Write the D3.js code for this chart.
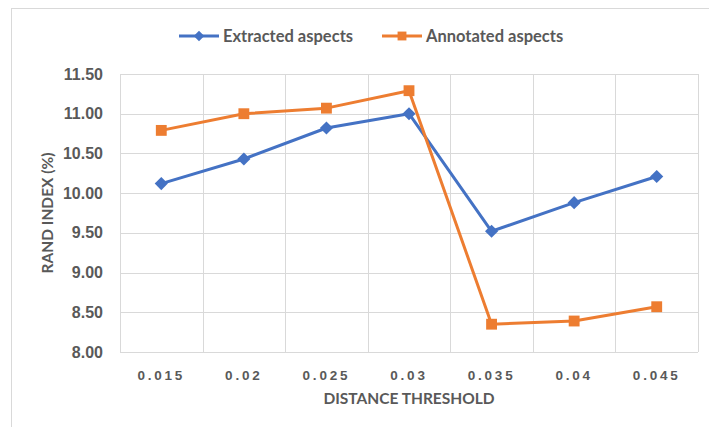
<!DOCTYPE html>
<html>
<head>
<meta charset="utf-8">
<script src="https://cdn.jsdelivr.net/npm/d3@7"></script>
<style>
  html, body { margin: 0; padding: 0; background: #fff; }
  svg { display: block; font-family: Lato, "Liberation Sans", sans-serif; }
</style>
</head>
<body>
<svg id="chart" width="709" height="427"></svg>
<script>
// Distance thresholds on the x axis
const thresholds = ["0.015", "0.02", "0.025", "0.03", "0.035", "0.04", "0.045"];
// Rand index (%) per threshold
const extracted = [10.12, 10.43, 10.82, 11.00, 9.52, 9.88, 10.21];
const annotated = [10.79, 11.00, 11.07, 11.29, 8.35, 8.39, 8.57];
const yTicks = [8.0, 8.5, 9.0, 9.5, 10.0, 10.5, 11.0, 11.5];
const seriesNames = ["Extracted aspects", "Annotated aspects"];

const svg = d3.select("#chart");
const W = 709, H = 427;
const plot = { left: 120, right: 698, top: 74, bottom: 352 };
const textColor = "#595959";
const gridColor = "#d9d9d9";
const colors = ["#4472C4", "#ED7D31"];

// outer chart frame
svg.append("rect")
  .attr("x", 11.5).attr("y", 8.5)
  .attr("width", W + 20).attr("height", H + 20)
  .attr("fill", "none").attr("stroke", "#d9d9d9");

const x = d3.scaleBand().domain(thresholds).range([plot.left, plot.right]).paddingInner(0).paddingOuter(0);
const y = d3.scaleLinear().domain([8, 11.5]).range([plot.bottom, plot.top]);

// horizontal gridlines
svg.append("g").selectAll("line").data(yTicks).join("line")
  .attr("x1", plot.left).attr("x2", plot.right)
  .attr("y1", d => Math.round(y(d)) + 0.5).attr("y2", d => Math.round(y(d)) + 0.5)
  .attr("stroke", gridColor).attr("stroke-width", 1);

// vertical gridlines at category boundaries
const bounds = thresholds.map(t => x(t)).concat([plot.right]);
svg.append("g").selectAll("line").data(bounds).join("line")
  .attr("x1", d => Math.round(d) + 0.5).attr("x2", d => Math.round(d) + 0.5)
  .attr("y1", plot.top).attr("y2", plot.bottom)
  .attr("stroke", gridColor).attr("stroke-width", 1);

// y axis tick labels
const yAxis = d3.axisLeft(y).tickValues(yTicks).tickFormat(d3.format(".2f")).tickSize(0).tickPadding(17);
const gy = svg.append("g").attr("transform", `translate(${plot.left},0)`).call(yAxis);
gy.select(".domain").remove();
gy.selectAll("text")
  .attr("fill", textColor).attr("font-size", 16).attr("font-weight", "bold");

// x axis tick labels
const xAxis = d3.axisBottom(x).tickSize(0).tickPadding(18);
const gx = svg.append("g").attr("transform", `translate(0,${plot.bottom})`).call(xAxis);
gx.select(".domain").remove();
gx.selectAll("text")
  .attr("fill", textColor).attr("font-size", 13.5).attr("font-weight", "bold")
  .attr("letter-spacing", "2.8px");

// axis titles
svg.append("text")
  .attr("x", (plot.left + plot.right) / 2).attr("y", 404)
  .attr("text-anchor", "middle").attr("fill", textColor)
  .attr("font-size", 15.5).attr("font-weight", "bold")
  .text("DISTANCE THRESHOLD");

svg.append("text")
  .attr("transform", `translate(53,${(plot.top + plot.bottom) / 2}) rotate(-90)`)
  .attr("text-anchor", "middle").attr("fill", textColor)
  .attr("font-size", 15.5).attr("font-weight", "bold")
  .text("RAND INDEX (%)");

const cx = t => x(t) + x.bandwidth() / 2;
const line = d3.line().x((d, i) => cx(thresholds[i])).y(d => y(d));

const diamond = d3.symbol().type(d3.symbolDiamond2).size(110);
const square = d3.symbol().type(d3.symbolSquare2).size(150);

function drawSeries(values, color, sym) {
  svg.append("path").datum(values)
    .attr("d", line).attr("fill", "none")
    .attr("stroke", color).attr("stroke-width", 3).attr("stroke-linejoin", "round");
  svg.append("g").selectAll("path").data(values).join("path")
    .attr("d", sym)
    .attr("transform", (d, i) => `translate(${cx(thresholds[i])},${y(d)})`)
    .attr("fill", color);
}

drawSeries(extracted, colors[0], diamond);
drawSeries(annotated, colors[1], square);

// legend
const legend = [
  { name: seriesNames[0], color: colors[0], kind: "diamond", x: 179 },
  { name: seriesNames[1], color: colors[1], kind: "square", x: 382 }
];
const lg = svg.append("g").selectAll("g").data(legend).join("g")
  .attr("transform", d => `translate(${d.x},36)`);
lg.append("line").attr("x1", 0).attr("x2", 40).attr("y1", 0).attr("y2", 0)
  .attr("stroke", d => d.color).attr("stroke-width", 3);
lg.append("path").attr("d", d => d.kind === "diamond"
    ? d3.symbol().type(d3.symbolDiamond2).size(70)()
    : d3.symbol().type(d3.symbolSquare2).size(100)())
  .attr("transform", "translate(20,0)").attr("fill", d => d.color);
lg.append("text").attr("x", 44).attr("y", 0).attr("dy", "0.35em")
  .attr("fill", textColor).attr("font-size", 16.5).attr("font-weight", "bold")
  .text(d => d.name);
</script>
</body>
</html>
